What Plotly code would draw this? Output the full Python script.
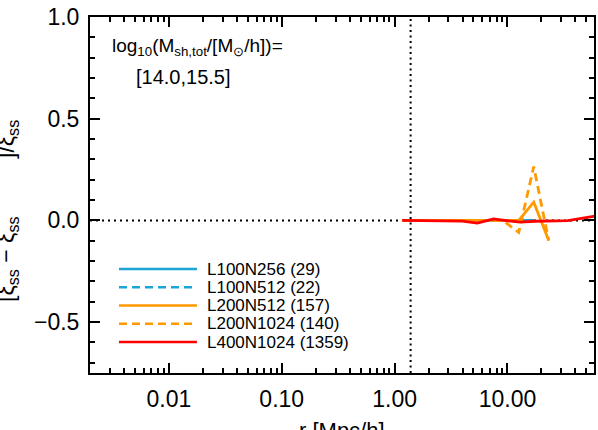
import plotly.graph_objects as go

# separation r [Mpc/h] and fractional difference for each run
r_l100n256 = [1.17, 1.59, 2.16, 2.93, 3.98, 5.41, 7.35, 9.1, 12.6, 17.1]
d_l100n256 = [0.0, 0.0, 0.0, 0.0, 0.0, 0.0, 0.0, 0.0, 0.0, 0.0]

r_l100n512 = [1.17, 1.59, 2.16, 2.93, 3.98, 5.41, 7.35, 9.1, 12.6, 17.1]
d_l100n512 = [0.0, 0.0, 0.0, 0.0, 0.0, 0.0, 0.0, 0.0, 0.0, 0.0]

r_l200n512 = [1.17, 1.59, 2.16, 2.93, 3.98, 5.41, 7.35, 9.1, 12.6, 17.1, 23.2]
d_l200n512 = [0.0, 0.0, 0.0, 0.0, 0.0, 0.0, 0.0, 0.0, 0.0, 0.09, -0.098]

r_l200n1024 = [1.17, 1.59, 2.16, 2.93, 3.98, 5.41, 7.35, 9.1, 12.6, 17.1, 23.2]
d_l200n1024 = [0.0, 0.0, 0.0, 0.0, 0.0, 0.0, 0.0, 0.0, -0.059, 0.265, -0.10]

r_l400n1024 = [1.17, 1.59, 2.16, 2.93, 3.98, 5.41, 7.54, 10.2, 13.0, 17.5, 24.0, 34.2, 58.0, 80.0]
d_l400n1024 = [0.0, 0.0, 0.0, 0.0, -0.003, -0.013, 0.008, -0.002, -0.008, -0.004, -0.003, -0.001, 0.02, 0.033]

names = ["L100N256 (29)", "L100N512 (22)", "L200N512 (157)", "L200N1024 (140)", "L400N1024 (1359)"]
colors = ["#1aa5d6", "#1aa5d6", "#ff9900", "#ff9900", "#ff0000"]
dashes = ["solid", "8px,5px", "solid", "8px,5px", "solid"]
series_r = [r_l100n256, r_l100n512, r_l200n512, r_l200n1024, r_l400n1024]
series_d = [d_l100n256, d_l100n512, d_l200n512, d_l200n1024, d_l400n1024]

r_split = 1.387  # vertical dotted marker
x_ticks = [0.01, 0.1, 1.0, 10.0]
x_ticktext = ["0.01", "0.10", "1.00", "10.00"]
x_decades = [0.001, 0.01, 0.1, 1.0, 10.0]
x_minor = [m * d for d in x_decades for m in range(2, 10)]
y_ticks = [-0.5, 0.0, 0.5, 1.0]
y_ticktext = ["\u22120.5", "0.0", "0.5", "1.0"]
x_range = [-2.699, 1.767]
y_range = [-0.75, 1.0]

FONT = "Liberation Sans, Arial, sans-serif"

fig = go.Figure()

# reference lines
fig.add_trace(go.Scatter(x=[0.002, 58.5], y=[0, 0], mode="lines",
                         line=dict(color="black", width=2, dash="2px,4px"),
                         showlegend=False, hoverinfo="skip"))
fig.add_trace(go.Scatter(x=[r_split, r_split], y=y_range, mode="lines",
                         line=dict(color="black", width=2, dash="2px,3.5px"),
                         showlegend=False, hoverinfo="skip"))

for r, d, name, c, ds in zip(series_r, series_d, names, colors, dashes):
    fig.add_trace(go.Scatter(x=r, y=d, mode="lines", name=name,
                             line=dict(color=c, width=2.8, dash=ds),
                             showlegend=False))

# hand-made legend (long line samples like the original)
leg_top = 269.3
leg_step = 18.25
plot_top, plot_bot, plot_left, plot_w = 17.0, 373.3, 90.0, 504.3
for i, (name, c, ds) in enumerate(zip(names, colors, dashes)):
    ypix = leg_top + i * leg_step
    yp = (plot_bot - ypix) / (plot_bot - plot_top)
    fig.add_shape(type="line", xref="paper", yref="paper",
                  x0=(119 - plot_left) / plot_w, x1=(197 - plot_left) / plot_w,
                  y0=yp, y1=yp, line=dict(color=c, width=2.5, dash=ds))
    fig.add_annotation(xref="paper", yref="paper", x=(205 - plot_left) / plot_w, y=yp,
                       xanchor="left", yanchor="middle", showarrow=False,
                       text=name.replace(" ", "\u00a0"),
                       font=dict(family=FONT, size=17, color="black"))

# mass bin label
fig.add_annotation(xref="paper", yref="paper", x=(110 - plot_left) / plot_w,
                   y=(plot_bot - 47.5) / (plot_bot - plot_top),
                   xanchor="left", yanchor="middle", showarrow=False,
                   text="log<sub>10</sub>(M<sub>sh,tot</sub>/[M<sub>\u2299</sub>/h])=",
                   font=dict(family=FONT, size=19, color="black"))
fig.add_annotation(xref="paper", yref="paper", x=(134 - plot_left) / plot_w,
                   y=(plot_bot - 76.7) / (plot_bot - plot_top),
                   xanchor="left", yanchor="middle", showarrow=False,
                   text="[14.0,15.5]",
                   font=dict(family=FONT, size=20, color="black"))

# axis titles (partly cut by the page edge, as in the original)
fig.add_annotation(xref="paper", yref="paper", x=0.5, y=(plot_bot - 416) / (plot_bot - plot_top),
                   xanchor="center", yanchor="top", showarrow=False,
                   text="r\u00a0[Mpc/h]", font=dict(family=FONT, size=22, color="black"))
fig.add_annotation(xref="paper", yref="paper", x=(8 - plot_left) / plot_w,
                   y=(plot_bot - 211) / (plot_bot - plot_top),
                   xanchor="center", yanchor="middle", showarrow=False, textangle=-90,
                   text="[\u03be<sub>ss</sub> \u2212 \u03be<sub>ss</sub>"
                        "\u00a0\u00a0\u00a0\u00a0\u00a0\u00a0\u00a0\u00a0\u00a0]/\u03be<sub>ss</sub>",
                   font=dict(family=FONT, size=23, color="black"))

fig.update_xaxes(type="log", range=x_range, tickvals=x_ticks, ticktext=x_ticktext,
                 ticks="inside", ticklen=10, tickwidth=1.5, tickcolor="black",
                 minor=dict(tickmode="array", tickvals=x_minor, ticks="inside", ticklen=5,
                            tickwidth=1.5, tickcolor="black", showgrid=False),
                 showline=True, linewidth=2, linecolor="black", mirror="allticks",
                 showgrid=False, zeroline=False, ticklabelstandoff=4, automargin=False,
                 tickfont=dict(family=FONT, size=23, color="black"))
fig.update_yaxes(range=y_range, tickvals=y_ticks, ticktext=y_ticktext,
                 ticks="inside", ticklen=10, tickwidth=1.5, tickcolor="black",
                 minor=dict(ticks="inside", ticklen=5, tickwidth=1.5, tickcolor="black",
                            dtick=0.1, showgrid=False),
                 showline=True, linewidth=2, linecolor="black", mirror="allticks",
                 showgrid=False, zeroline=False, ticklabelstandoff=4, automargin=False,
                 tickfont=dict(family=FONT, size=23, color="black"))

fig.update_layout(width=598, height=430, margin=dict(l=90, r=4, t=17, b=57),
                  plot_bgcolor="white", paper_bgcolor="white", showlegend=False)

# drop the browser's default page margin so the figure sits at the window corner
fig.write_html("out.html", config={"displayModeBar": False},
               post_script="document.body.style.margin='0';")
